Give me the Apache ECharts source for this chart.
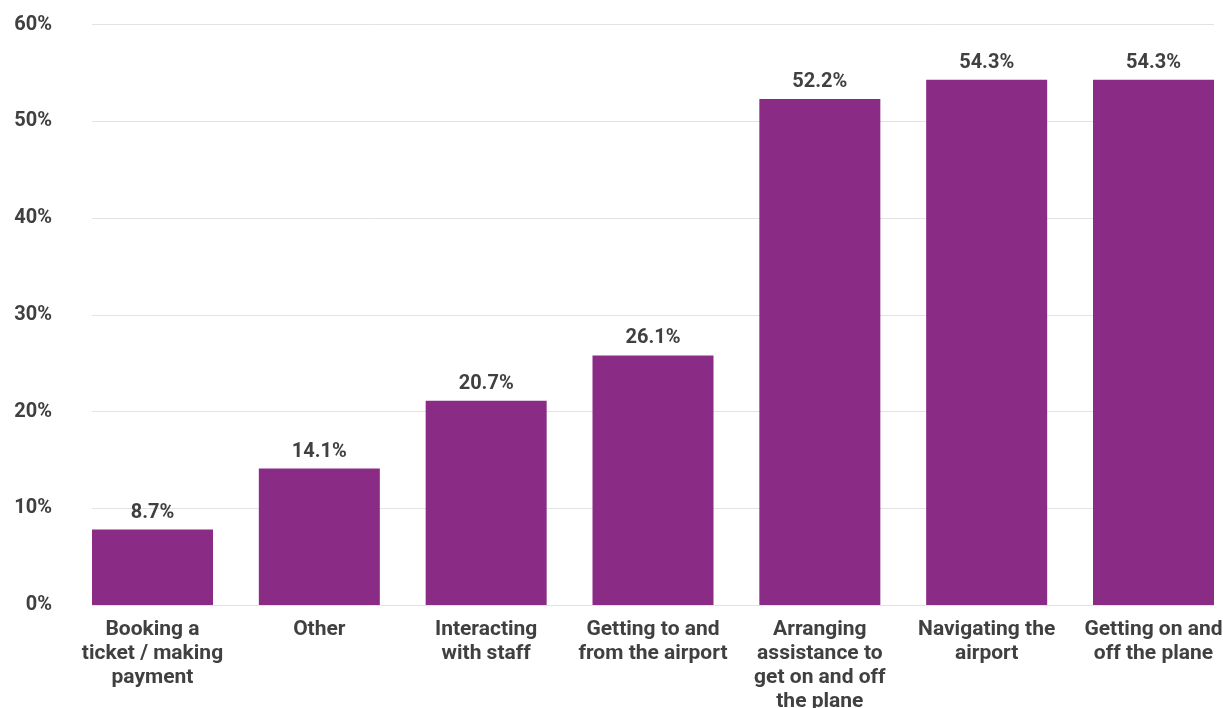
<!DOCTYPE html>
<html>
<head>
<meta charset="utf-8">
<script src="https://cdn.jsdelivr.net/npm/echarts@6/dist/echarts.min.js"></script>
<style>
  html, body { margin: 0; padding: 0; background: #ffffff; }
  #chart { width: 1223px; height: 708px; }
</style>
</head>
<body>
<div id="chart"></div>
<script>
// Data
const categories = [
  'Booking a\nticket / making\npayment',
  'Other',
  'Interacting\nwith staff',
  'Getting to and\nfrom the airport',
  'Arranging\nassistance to\nget on and off\nthe plane',
  'Navigating the\nairport',
  'Getting on and\noff the plane'
];
// bar heights as drawn in the reference (percent)
const barValues = [7.8, 14.1, 21.1, 25.8, 52.3, 54.3, 54.3];
// value labels as printed in the reference
const valueLabels = ['8.7%', '14.1%', '20.7%', '26.1%', '52.2%', '54.3%', '54.3%'];
const yTicks = [0, 10, 20, 30, 40, 50, 60];

const textColor = '#404040';
const font = 'Roboto';

const chart = echarts.init(document.getElementById('chart'), null, { renderer: 'canvas' });
chart.setOption({
  backgroundColor: '#ffffff',
  animation: false,
  grid: [
    { left: 92, right: 9, top: 24.5, bottom: 103, containLabel: false, outerBoundsMode: 'none' },
    { left: 152.5, right: 69.5, top: 24.5, bottom: 103, containLabel: false, outerBoundsMode: 'none' }
  ],
  xAxis: [
    { gridIndex: 0, type: 'value', min: 0, max: 1, show: false },
    {
      gridIndex: 1,
      type: 'category',
      data: categories,
      boundaryGap: false,
      axisLine: { show: false },
      axisTick: { show: false },
      splitLine: { show: false },
      axisLabel: {
        interval: 0,
        margin: 13,
        color: textColor,
        fontFamily: font,
        fontWeight: 'bold',
        fontSize: 21,
        lineHeight: 24,
        align: 'center'
      }
    }
  ],
  yAxis: [
    {
      gridIndex: 0,
      type: 'value',
      min: yTicks[0],
      max: yTicks[yTicks.length - 1],
      interval: 10,
      axisLine: { show: false },
      axisTick: { show: false },
      splitLine: { show: true, lineStyle: { color: '#e2e2e2', width: 1 } },
      axisLabel: {
        margin: 40,
        color: textColor,
        fontFamily: font,
        fontWeight: 'bold',
        fontSize: 20,
        padding: [4, 0, 0, 0],
        formatter: v => v + '%'
      }
    },
    {
      gridIndex: 1,
      type: 'value',
      min: yTicks[0],
      max: yTicks[yTicks.length - 1],
      interval: 10,
      show: false
    }
  ],
  series: [
    {
      type: 'bar',
      xAxisIndex: 1,
      yAxisIndex: 1,
      data: barValues,
      barWidth: 121,
      itemStyle: { color: '#8a2c86' },
      label: {
        show: true,
        position: 'top',
        distance: 7,
        color: textColor,
        fontFamily: font,
        fontWeight: 'bold',
        fontSize: 20,
        formatter: p => valueLabels[p.dataIndex]
      }
    }
  ]
});
</script>
</body>
</html>
